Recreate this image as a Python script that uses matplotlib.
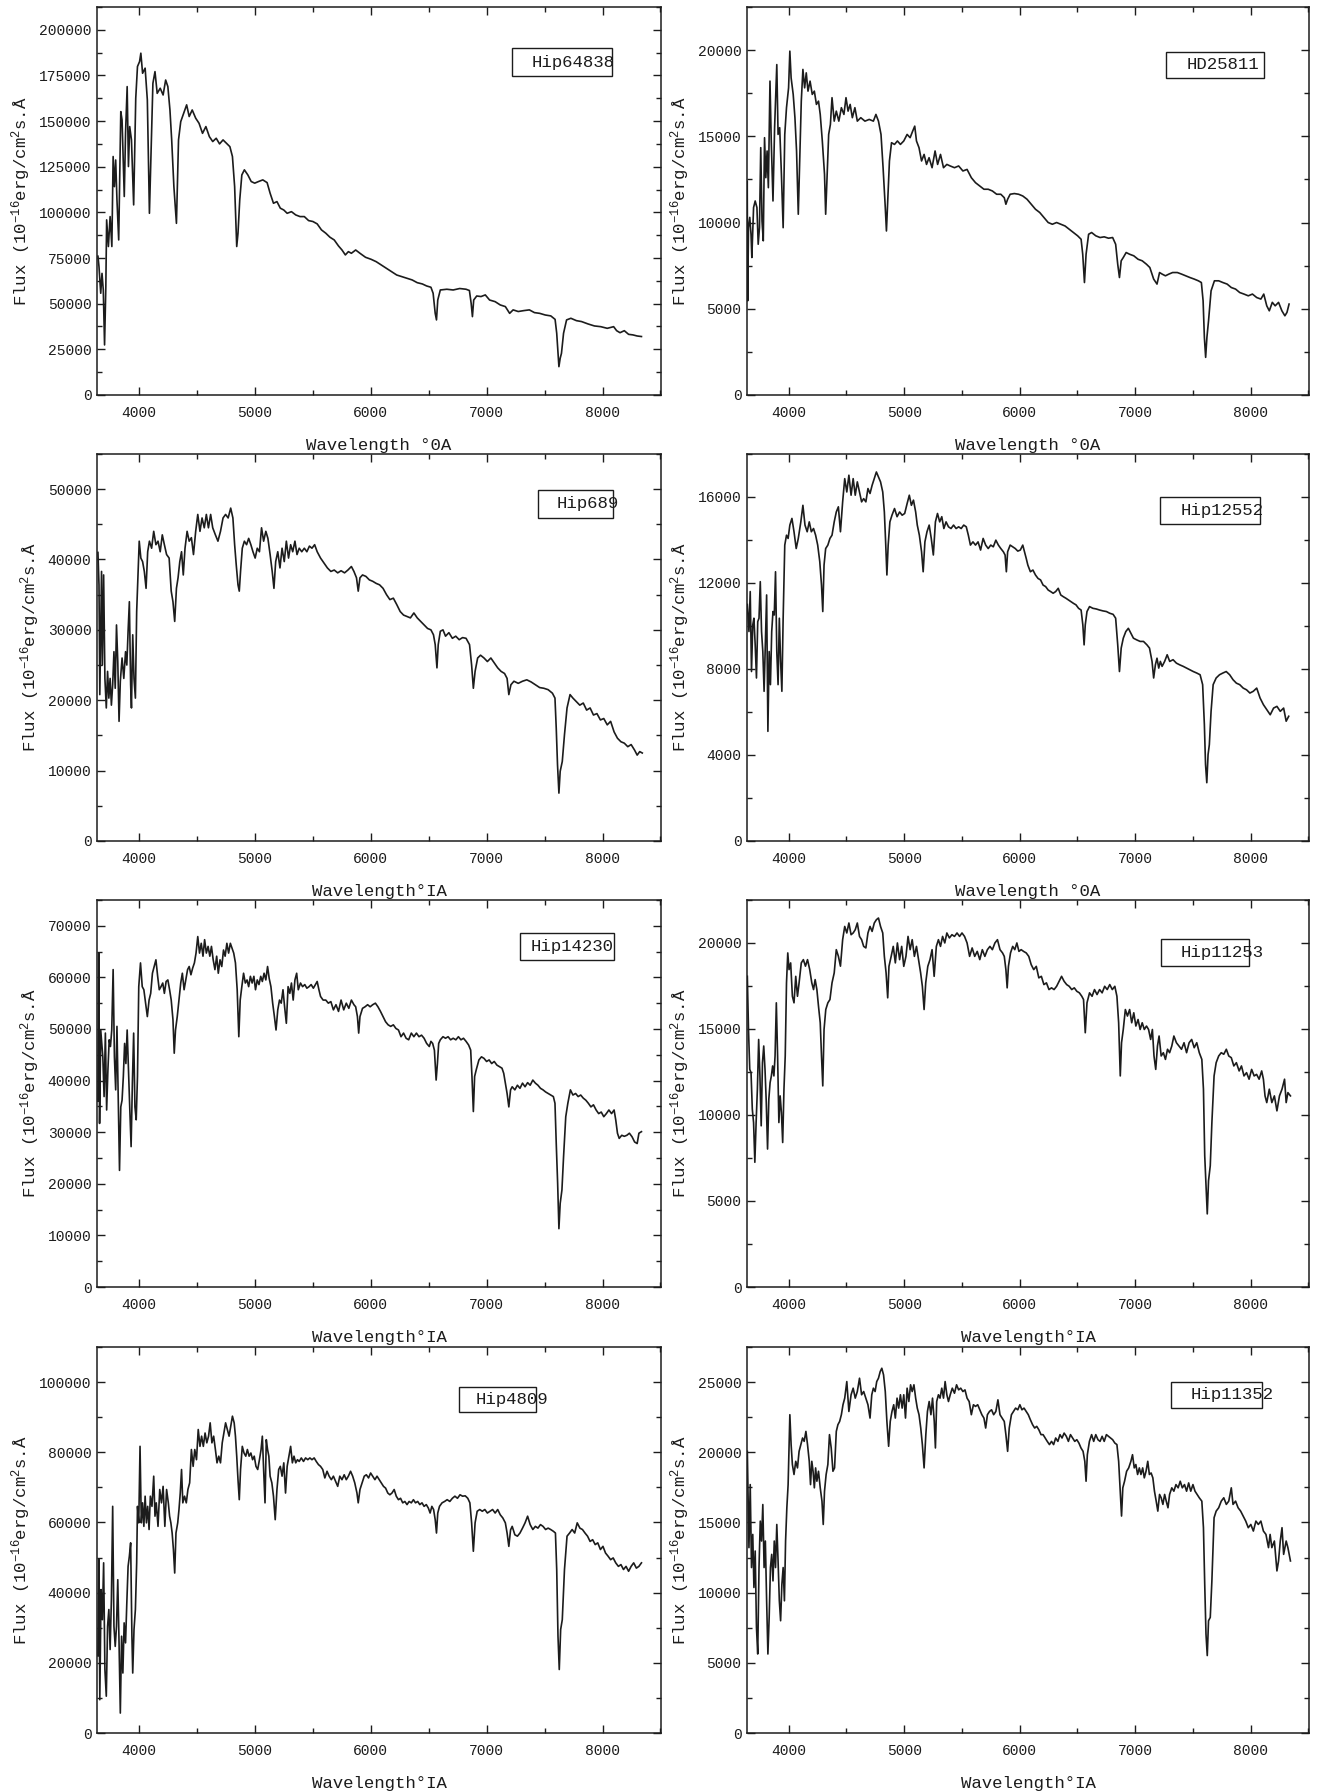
import matplotlib.pyplot as plt
from matplotlib.ticker import MultipleLocator, FuncFormatter
from matplotlib.patches import Rectangle

plt.rcParams['font.family'] = ['Liberation Mono', 'DejaVu Sans Mono']
plt.rcParams['mathtext.fontset'] = 'custom'
plt.rcParams['mathtext.rm'] = 'Liberation Mono'
plt.rcParams['mathtext.it'] = 'Liberation Mono'

# spectra: (wavelength in A, flux)
hip64838 = [
    (3648, 76000), (3657, 70300), (3672, 55700), (3683, 66600), (3694, 57500), (3705, 27400),
    (3716, 59300), (3723, 95900), (3738, 81300), (3753, 97700), (3768, 81300), (3779, 130600),
    (3790, 114100), (3801, 128700), (3812, 106800), (3827, 84900), (3845, 155200), (3856, 150600),
    (3875, 108700), (3886, 143300), (3900, 168900), (3911, 125100), (3922, 147000), (3937, 139700),
    (3956, 104100), (3974, 162500), (3989, 179900), (4007, 182600), (4018, 187200), (4033, 176200),
    (4055, 179000), (4074, 161600), (4092, 99500), (4103, 125100), (4122, 170700), (4140, 177100),
    (4159, 165200), (4185, 168000), (4210, 164300), (4232, 172500), (4251, 168900), (4269, 156100),
    (4284, 139700), (4303, 114100), (4325, 94000), (4343, 139700), (4362, 149700), (4387, 154300),
    (4413, 158900), (4435, 152500), (4461, 156100), (4491, 151600), (4520, 148800), (4550, 143300),
    (4579, 147000), (4609, 141500), (4638, 138800), (4668, 140600), (4697, 137500), (4727, 139700),
    (4756, 137900), (4786, 136000), (4808, 130600), (4827, 114100), (4845, 81300), (4856, 88600),
    (4871, 106800), (4889, 120500), (4911, 123300), (4941, 120500), (4970, 116900), (5000, 116000),
    (5033, 116900), (5070, 117800), (5107, 116300), (5133, 110500), (5162, 105000), (5192, 105900),
    (5221, 102300), (5251, 101300), (5280, 99500), (5317, 100400), (5354, 98600), (5391, 97700),
    (5428, 97700), (5465, 95500), (5502, 95000), (5539, 93700), (5576, 90400), (5613, 88600),
    (5649, 86400), (5686, 84900), (5723, 81600), (5753, 79400), (5782, 76700), (5808, 78500),
    (5834, 77600), (5871, 79400), (5908, 77600), (5956, 75400), (6004, 74300), (6048, 73000),
    (6092, 71200), (6137, 69400), (6181, 67600), (6225, 65700), (6269, 64800), (6314, 63900),
    (6358, 63000), (6402, 61500), (6446, 60800), (6483, 59700), (6520, 59000), (6539, 55700),
    (6557, 44700), (6568, 41100), (6579, 52000), (6601, 57500), (6657, 57900), (6712, 57500),
    (6768, 58300), (6823, 57900), (6852, 57200), (6867, 50200), (6878, 42900), (6889, 52000),
    (6915, 54200), (6952, 53900), (6989, 54800), (7026, 52000), (7074, 51100), (7118, 49300),
    (7162, 48400), (7199, 44700), (7229, 46600), (7273, 45700), (7321, 46200), (7369, 46600),
    (7413, 45100), (7458, 44700), (7506, 43800), (7554, 43300), (7591, 41400), (7605, 33800),
    (7616, 22800), (7624, 15500), (7635, 20100), (7646, 22800), (7664, 33800), (7690, 41100),
    (7727, 42000), (7775, 40700), (7819, 40200), (7875, 38900), (7930, 37800), (7985, 37400),
    (8041, 36500), (8096, 37400), (8122, 35200), (8151, 34100), (8188, 35200), (8225, 33200),
    (8262, 32900), (8299, 32300), (8336, 32000),
]

hd25811 = [
    (3640, 9300), (3642, 12400), (3646, 5460), (3653, 9700), (3664, 10300), (3675, 9300),
    (3682, 7970), (3697, 10870), (3711, 11250), (3726, 10870), (3737, 8740), (3748, 9700),
    (3759, 14340), (3770, 10090), (3781, 8940), (3792, 14920), (3803, 12600), (3814, 14150),
    (3825, 12020), (3839, 18200), (3850, 14730), (3865, 11250), (3879, 15500), (3898, 19160),
    (3909, 15110), (3923, 15500), (3938, 12800), (3953, 9700), (3967, 15110), (3982, 16660),
    (4000, 17810), (4011, 19940), (4022, 18390), (4040, 17430), (4055, 16080), (4069, 14150),
    (4084, 10480), (4095, 13180), (4110, 17040), (4124, 18880), (4139, 17810), (4153, 18680),
    (4168, 17620), (4186, 18200), (4205, 17430), (4223, 17620), (4241, 16850), (4259, 17040),
    (4274, 16270), (4292, 14730), (4311, 12800), (4321, 10480), (4332, 12410), (4347, 15110),
    (4362, 15690), (4376, 17240), (4395, 15880), (4413, 16460), (4435, 15880), (4457, 16660),
    (4479, 16270), (4497, 17240), (4515, 16460), (4533, 16850), (4552, 16080), (4574, 16660),
    (4595, 15880), (4625, 16080), (4661, 15880), (4698, 15980), (4734, 15880), (4756, 16270),
    (4778, 15880), (4800, 15110), (4818, 13180), (4837, 10870), (4847, 9510), (4858, 11250),
    (4873, 13570), (4891, 14630), (4917, 14530), (4942, 14730), (4968, 14530), (4997, 14730),
    (5026, 15110), (5052, 14920), (5074, 15300), (5092, 15590), (5107, 14730), (5129, 14340),
    (5151, 13570), (5173, 13950), (5194, 13370), (5216, 13760), (5242, 13180), (5268, 14150),
    (5290, 13370), (5315, 13950), (5341, 13180), (5370, 13370), (5399, 13280), (5436, 13180),
    (5472, 13280), (5509, 12990), (5545, 13080), (5582, 12600), (5618, 12310), (5655, 12120),
    (5691, 11930), (5728, 11930), (5764, 11830), (5801, 11640), (5837, 11640), (5867, 11440),
    (5881, 11060), (5896, 11350), (5918, 11640), (5954, 11680), (5991, 11640), (6027, 11540),
    (6064, 11350), (6100, 11060), (6137, 10770), (6174, 10580), (6210, 10290), (6247, 10000),
    (6283, 9900), (6320, 10000), (6356, 9900), (6393, 9800), (6429, 9610), (6466, 9420),
    (6502, 9230), (6532, 9030), (6546, 8160), (6561, 6520), (6575, 8160), (6597, 9320),
    (6623, 9420), (6659, 9230), (6696, 9130), (6732, 9170), (6769, 9090), (6805, 9130),
    (6831, 8740), (6849, 7580), (6864, 6810), (6879, 7780), (6897, 7970), (6922, 8260),
    (6952, 8160), (6988, 8070), (7025, 7870), (7061, 7780), (7098, 7580), (7127, 7390),
    (7160, 6720), (7189, 6430), (7211, 7100), (7233, 7010), (7262, 6910), (7292, 7010),
    (7324, 7100), (7365, 7100), (7401, 7010), (7438, 6910), (7474, 6810), (7511, 6720),
    (7547, 6620), (7573, 6520), (7588, 5460), (7599, 3340), (7610, 2180), (7621, 3340),
    (7635, 4300), (7657, 6040), (7686, 6620), (7723, 6620), (7759, 6520), (7796, 6430),
    (7832, 6230), (7869, 6140), (7905, 5940), (7942, 5850), (7979, 5750), (8015, 5850),
    (8052, 5650), (8088, 5560), (8113, 5850), (8139, 5170), (8161, 4880), (8187, 5370),
    (8212, 5170), (8241, 5370), (8270, 4880), (8296, 4590), (8314, 4790), (8332, 5270),
]

hip689 = [
    (3648, 41000), (3657, 36400), (3664, 20800), (3672, 30200), (3679, 38300), (3686, 25000),
    (3697, 37800), (3708, 23100), (3720, 18900), (3731, 24100), (3742, 20300), (3753, 23100),
    (3764, 19300), (3775, 22200), (3786, 26900), (3797, 21700), (3808, 30700), (3819, 25500),
    (3830, 17000), (3841, 22700), (3856, 26000), (3871, 23100), (3886, 26900), (3897, 25000),
    (3908, 29800), (3919, 34000), (3930, 22200), (3937, 18900), (3948, 29300), (3959, 23100),
    (3971, 20300), (3982, 32600), (3993, 37400), (4004, 42600), (4018, 40200), (4033, 39700),
    (4048, 38300), (4063, 35900), (4077, 41100), (4092, 42600), (4111, 41600), (4129, 44000),
    (4148, 42100), (4166, 42600), (4185, 41100), (4203, 43500), (4221, 42100), (4240, 40700),
    (4262, 40200), (4280, 35500), (4295, 34000), (4310, 31200), (4325, 35900), (4339, 37400),
    (4354, 39700), (4369, 41100), (4384, 37800), (4399, 41600), (4417, 44000), (4435, 42600),
    (4454, 43100), (4472, 40700), (4491, 44000), (4509, 46400), (4528, 44000), (4546, 45900),
    (4565, 44500), (4583, 46400), (4601, 44500), (4620, 46400), (4638, 44500), (4661, 43500),
    (4683, 42600), (4705, 44000), (4727, 45900), (4749, 46400), (4771, 45900), (4793, 47300),
    (4812, 45900), (4827, 42100), (4841, 39200), (4856, 36400), (4867, 35500), (4878, 38300),
    (4893, 41600), (4911, 42600), (4930, 42100), (4948, 43000), (4967, 42100), (4985, 41100),
    (5004, 40200), (5022, 41600), (5041, 41100), (5059, 44500), (5077, 42600), (5096, 44000),
    (5114, 43000), (5133, 40700), (5151, 38300), (5166, 35900), (5181, 39700), (5199, 41100),
    (5218, 38800), (5236, 41600), (5255, 39700), (5273, 42600), (5292, 40200), (5310, 42100),
    (5328, 41100), (5347, 42600), (5365, 40700), (5384, 41600), (5406, 41100), (5428, 41600),
    (5450, 41100), (5472, 41900), (5494, 41600), (5517, 42100), (5539, 41100), (5568, 40200),
    (5598, 39500), (5627, 38800), (5657, 38300), (5686, 38500), (5716, 38100), (5745, 38400),
    (5775, 38100), (5804, 38500), (5834, 39000), (5856, 38300), (5878, 37400), (5893, 35500),
    (5908, 37400), (5930, 37800), (5959, 37600), (5989, 37100), (6018, 36900), (6048, 36600),
    (6077, 36400), (6107, 35900), (6137, 35000), (6166, 34300), (6196, 34500), (6225, 33600),
    (6255, 32600), (6284, 32100), (6314, 31900), (6343, 31700), (6373, 32400), (6402, 31700),
    (6432, 31200), (6461, 30700), (6491, 30200), (6520, 30000), (6542, 29300), (6557, 27900),
    (6572, 24600), (6583, 27900), (6601, 29800), (6624, 30000), (6646, 29100), (6675, 29600),
    (6705, 28800), (6734, 29100), (6764, 28600), (6793, 28900), (6823, 28800), (6853, 27900),
    (6871, 25000), (6886, 21700), (6901, 24100), (6923, 26000), (6948, 26400), (6978, 26000),
    (7007, 25500), (7037, 26000), (7067, 25300), (7096, 24600), (7125, 24100), (7155, 23800),
    (7177, 23100), (7192, 20800), (7210, 22200), (7236, 22700), (7273, 22400), (7310, 22700),
    (7347, 22900), (7384, 22600), (7421, 22200), (7458, 21800), (7494, 21700), (7531, 21500),
    (7568, 21000), (7590, 20300), (7601, 16000), (7612, 10800), (7624, 6800), (7635, 9900),
    (7653, 11300), (7672, 15100), (7694, 18900), (7720, 20800), (7745, 20300), (7775, 19800),
    (7804, 19300), (7834, 19600), (7863, 18600), (7893, 18900), (7922, 17900), (7952, 18100),
    (7982, 17200), (8011, 17400), (8041, 16500), (8070, 17000), (8100, 15500), (8129, 14600),
    (8159, 14100), (8188, 13900), (8218, 13400), (8247, 13700), (8277, 12900), (8299, 12200),
    (8321, 12700), (8343, 12500),
]

hip12552 = [
    (3643, 11000), (3657, 9740), (3668, 11600), (3679, 7880), (3690, 10050), (3700, 10360),
    (3711, 9120), (3722, 7580), (3733, 10200), (3744, 10360), (3755, 12060), (3766, 9740),
    (3777, 8810), (3788, 6960), (3799, 9120), (3810, 11440), (3821, 5100), (3832, 8810),
    (3843, 7270), (3854, 9740), (3865, 10670), (3876, 10510), (3887, 12520), (3898, 8810),
    (3909, 7270), (3920, 10360), (3931, 8350), (3942, 6960), (3953, 10360), (3967, 13760),
    (3982, 14220), (3996, 14070), (4011, 14690), (4029, 15000), (4047, 14380), (4066, 13600),
    (4084, 14070), (4106, 14840), (4124, 15610), (4142, 14690), (4161, 14380), (4179, 14840),
    (4197, 14380), (4216, 14530), (4234, 14220), (4252, 13760), (4270, 12990), (4285, 11900),
    (4296, 10670), (4307, 12830), (4321, 13600), (4340, 13760), (4358, 14070), (4376, 14220),
    (4395, 14840), (4413, 15300), (4431, 15540), (4449, 14380), (4468, 15770), (4486, 16850),
    (4504, 16230), (4522, 17010), (4541, 16080), (4559, 16850), (4577, 16080), (4595, 16700),
    (4614, 16230), (4632, 15770), (4650, 15920), (4669, 15770), (4687, 16390), (4705, 16160),
    (4723, 16540), (4742, 16850), (4760, 17160), (4778, 16930), (4796, 16700), (4815, 16230),
    (4829, 15300), (4840, 13910), (4851, 12370), (4862, 13760), (4877, 14840), (4895, 15150),
    (4917, 15460), (4939, 15080), (4961, 15300), (4983, 15150), (5005, 15230), (5026, 15690),
    (5045, 16080), (5063, 15610), (5081, 15850), (5100, 15300), (5114, 14690), (5132, 14220),
    (5151, 13450), (5165, 12520), (5180, 13910), (5198, 14380), (5217, 14690), (5235, 14070),
    (5253, 13300), (5271, 14840), (5289, 15230), (5308, 14840), (5326, 15080), (5344, 14530),
    (5363, 14840), (5384, 14610), (5406, 14530), (5428, 14690), (5450, 14530), (5472, 14610),
    (5494, 14530), (5516, 14690), (5538, 14610), (5556, 14220), (5574, 13760), (5596, 13910),
    (5618, 13760), (5640, 13910), (5662, 13530), (5684, 14070), (5706, 13760), (5728, 13600),
    (5750, 13760), (5772, 13680), (5794, 13990), (5816, 13760), (5837, 13600), (5859, 13450),
    (5874, 13300), (5885, 12520), (5896, 13450), (5918, 13760), (5940, 13680), (5962, 13600),
    (5984, 13480), (6006, 13530), (6027, 13760), (6042, 13450), (6057, 13140), (6071, 12830),
    (6093, 12520), (6115, 12600), (6137, 12370), (6159, 12210), (6181, 12140), (6203, 11900),
    (6225, 11830), (6247, 11670), (6268, 11600), (6290, 11520), (6312, 11600), (6334, 11750),
    (6356, 11440), (6378, 11360), (6400, 11290), (6422, 11210), (6444, 11130), (6466, 11050),
    (6488, 10980), (6510, 10820), (6532, 10740), (6547, 10050), (6558, 9120), (6568, 10050),
    (6583, 10670), (6605, 10900), (6634, 10820), (6663, 10790), (6692, 10740), (6721, 10700),
    (6751, 10670), (6780, 10590), (6809, 10540), (6831, 10360), (6849, 9120), (6864, 7880),
    (6879, 8970), (6897, 9430), (6919, 9740), (6941, 9890), (6963, 9660), (6985, 9430),
    (7014, 9350), (7043, 9280), (7072, 9280), (7102, 9120), (7124, 8970), (7146, 8350),
    (7160, 7580), (7175, 8190), (7189, 8500), (7204, 8040), (7218, 8350), (7233, 8120),
    (7255, 8350), (7277, 8660), (7299, 8350), (7328, 8430), (7357, 8270), (7386, 8190),
    (7416, 8120), (7445, 8040), (7474, 7960), (7503, 7880), (7533, 7810), (7562, 7730),
    (7584, 7270), (7599, 5410), (7609, 3560), (7620, 2710), (7631, 4020), (7642, 4480),
    (7657, 6030), (7675, 7270), (7701, 7580), (7730, 7730), (7759, 7810), (7788, 7880),
    (7818, 7730), (7847, 7500), (7876, 7340), (7905, 7270), (7935, 7110), (7964, 7030),
    (7993, 6880), (8022, 6960), (8052, 7110), (8081, 6650), (8110, 6340), (8139, 6110),
    (8169, 5870), (8198, 6180), (8227, 6260), (8256, 6030), (8285, 6180), (8307, 5570),
    (8329, 5800),
]

hip14230 = [
    (3648, 36000), (3655, 64700), (3662, 31700), (3672, 49800), (3690, 44600), (3701, 36900),
    (3712, 49200), (3723, 34300), (3734, 42100), (3745, 47900), (3756, 46600), (3767, 49800),
    (3779, 61500), (3790, 44600), (3801, 38200), (3812, 50500), (3823, 36900), (3834, 22600),
    (3845, 34900), (3856, 36200), (3867, 40800), (3878, 47200), (3889, 43300), (3900, 49800),
    (3911, 42100), (3922, 34900), (3934, 27200), (3945, 39500), (3956, 49200), (3967, 34900),
    (3978, 32400), (3989, 40800), (4000, 58200), (4015, 62800), (4030, 58200), (4044, 57600),
    (4059, 55000), (4074, 52400), (4089, 55600), (4103, 56900), (4118, 60800), (4133, 62100),
    (4148, 63400), (4163, 60200), (4177, 57600), (4192, 58200), (4207, 58900), (4221, 56900),
    (4236, 59200), (4251, 59500), (4266, 57600), (4280, 55600), (4295, 51800), (4306, 45300),
    (4317, 49800), (4332, 52400), (4347, 55600), (4362, 58900), (4376, 60800), (4391, 57600),
    (4406, 59500), (4421, 61500), (4435, 62100), (4450, 60500), (4465, 61800), (4480, 62800),
    (4494, 64700), (4509, 67900), (4524, 64700), (4539, 66600), (4554, 64100), (4568, 67300),
    (4583, 64700), (4598, 66000), (4613, 64100), (4627, 66000), (4642, 63400), (4657, 61500),
    (4672, 64100), (4686, 60800), (4701, 63400), (4716, 62100), (4731, 65300), (4745, 64100),
    (4760, 66600), (4775, 64700), (4790, 66600), (4804, 65700), (4819, 64700), (4834, 62800),
    (4849, 57600), (4863, 48500), (4875, 55600), (4889, 58200), (4904, 60800), (4919, 58900),
    (4934, 59500), (4948, 58200), (4963, 60200), (4978, 58900), (4993, 60200), (5007, 57600),
    (5022, 59500), (5037, 58600), (5052, 60200), (5066, 59200), (5081, 60800), (5096, 59500),
    (5111, 62100), (5125, 59800), (5140, 58200), (5155, 55000), (5170, 52400), (5184, 49800),
    (5199, 53700), (5214, 55600), (5229, 55000), (5244, 57600), (5258, 54300), (5273, 51100),
    (5288, 58200), (5303, 56900), (5317, 58900), (5332, 55600), (5347, 59500), (5362, 60800),
    (5376, 57600), (5395, 58900), (5413, 58200), (5432, 58600), (5450, 57900), (5469, 58200),
    (5487, 58600), (5506, 57900), (5524, 58600), (5539, 59200), (5554, 57600), (5568, 56300),
    (5590, 55600), (5613, 55600), (5635, 55000), (5657, 55300), (5679, 53700), (5701, 54700),
    (5723, 53400), (5745, 55600), (5768, 53700), (5790, 55000), (5812, 54000), (5834, 55600),
    (5856, 54700), (5871, 54300), (5886, 52400), (5897, 49200), (5908, 52400), (5930, 54000),
    (5952, 54300), (5974, 54700), (5996, 54300), (6018, 54700), (6041, 55000), (6063, 54300),
    (6085, 53400), (6107, 52400), (6129, 51400), (6151, 50800), (6173, 50500), (6196, 50800),
    (6218, 50100), (6240, 49800), (6262, 48500), (6284, 49200), (6306, 48200), (6328, 47900),
    (6351, 49200), (6373, 48500), (6395, 49200), (6417, 48500), (6439, 48800), (6461, 48200),
    (6483, 47200), (6506, 46600), (6520, 47600), (6535, 47200), (6550, 45900), (6565, 40100),
    (6576, 43300), (6587, 47200), (6601, 47900), (6624, 48500), (6646, 48200), (6668, 48500),
    (6690, 47900), (6712, 48200), (6735, 47900), (6757, 48500), (6779, 47900), (6801, 48200),
    (6823, 47600), (6845, 46900), (6863, 45900), (6874, 40800), (6886, 34000), (6897, 40800),
    (6911, 42100), (6934, 44000), (6956, 44600), (6978, 44300), (7000, 43700), (7022, 44000),
    (7044, 43300), (7066, 43700), (7089, 43000), (7111, 42700), (7133, 42400), (7148, 41400),
    (7162, 39500), (7177, 37500), (7192, 34900), (7207, 38200), (7221, 38800), (7244, 38200),
    (7266, 39100), (7288, 38500), (7310, 39500), (7332, 38800), (7354, 39600), (7376, 39100),
    (7399, 40100), (7421, 39500), (7443, 39100), (7465, 38500), (7487, 38200), (7509, 37800),
    (7531, 37500), (7553, 37200), (7576, 36900), (7590, 35600), (7601, 27800), (7613, 20100),
    (7624, 11300), (7635, 16200), (7650, 18800), (7664, 25200), (7683, 33000), (7701, 35600),
    (7723, 38200), (7745, 37200), (7768, 37500), (7790, 36900), (7812, 37200), (7834, 36600),
    (7856, 36200), (7878, 35600), (7900, 34900), (7922, 35300), (7945, 34300), (7967, 33600),
    (7989, 33900), (8011, 33000), (8033, 33600), (8055, 34300), (8078, 33600), (8100, 34300),
    (8114, 32400), (8129, 29800), (8144, 28800), (8166, 29400), (8188, 29200), (8210, 29400),
    (8232, 29800), (8255, 29100), (8277, 28100), (8299, 27800), (8314, 29800), (8336, 30100),
]

hip11253 = [
    (3643, 18060), (3653, 14970), (3664, 12650), (3675, 12460), (3686, 10340), (3697, 9560),
    (3708, 7250), (3719, 9560), (3730, 11500), (3741, 14390), (3752, 12270), (3763, 9370),
    (3774, 13040), (3785, 14010), (3796, 12650), (3807, 10720), (3818, 8020), (3829, 10920),
    (3840, 11880), (3851, 12270), (3862, 12850), (3873, 12270), (3883, 13430), (3894, 16520),
    (3905, 13430), (3916, 9560), (3927, 11110), (3938, 10140), (3949, 8400), (3960, 11500),
    (3971, 13430), (3982, 17680), (3993, 19420), (4004, 18450), (4018, 18840), (4033, 16900),
    (4047, 16520), (4062, 18060), (4077, 16900), (4091, 17680), (4110, 18840), (4128, 19030),
    (4146, 18650), (4164, 19030), (4183, 18450), (4201, 17680), (4216, 17290), (4230, 17870),
    (4245, 17290), (4259, 16320), (4274, 15360), (4285, 13430), (4296, 11690), (4307, 14970),
    (4322, 16130), (4340, 16520), (4358, 16710), (4376, 17680), (4395, 18260), (4413, 19610),
    (4431, 19230), (4449, 18650), (4468, 20190), (4486, 20960), (4504, 20580), (4522, 21160),
    (4541, 20480), (4559, 20580), (4577, 20770), (4595, 21160), (4614, 20380), (4632, 20190),
    (4650, 19800), (4669, 19710), (4687, 20580), (4705, 20960), (4723, 20670), (4742, 21160),
    (4760, 21350), (4778, 21450), (4796, 20960), (4815, 20580), (4829, 19220), (4844, 18260),
    (4858, 16810), (4869, 18640), (4888, 19220), (4906, 19800), (4924, 18840), (4942, 20000),
    (4961, 19030), (4979, 19800), (4997, 18640), (5016, 19220), (5034, 20380), (5052, 19610),
    (5070, 20190), (5089, 19220), (5107, 19800), (5125, 19030), (5143, 18260), (5158, 17480),
    (5173, 16130), (5187, 17680), (5205, 18640), (5224, 19030), (5242, 19610), (5260, 18060),
    (5279, 19800), (5297, 20190), (5315, 19800), (5333, 20380), (5352, 20000), (5370, 20580),
    (5392, 20290), (5414, 20480), (5436, 20380), (5458, 20580), (5480, 20380), (5501, 20580),
    (5523, 20380), (5545, 20000), (5567, 19220), (5589, 19710), (5611, 19220), (5633, 19510),
    (5655, 19030), (5677, 19610), (5699, 19220), (5721, 19610), (5743, 19800), (5764, 19610),
    (5786, 20000), (5808, 20190), (5830, 19610), (5852, 19420), (5867, 19220), (5881, 18450),
    (5892, 17390), (5903, 18640), (5921, 19420), (5940, 19800), (5958, 19610), (5976, 20000),
    (5994, 19510), (6013, 19610), (6034, 19510), (6057, 19420), (6079, 19220), (6100, 18740),
    (6122, 18450), (6144, 18640), (6166, 17970), (6188, 18060), (6210, 17580), (6232, 17680),
    (6254, 17290), (6276, 17390), (6298, 17290), (6320, 17480), (6342, 17770), (6363, 18060),
    (6385, 17770), (6407, 17580), (6429, 17480), (6451, 17290), (6473, 17390), (6495, 17190),
    (6517, 17100), (6538, 16900), (6553, 16710), (6568, 14780), (6583, 16520), (6605, 17100),
    (6627, 16900), (6648, 17290), (6670, 17000), (6692, 17290), (6714, 17100), (6736, 17480),
    (6758, 17290), (6780, 17580), (6802, 17290), (6824, 17480), (6842, 16900), (6857, 15360),
    (6871, 12270), (6882, 14200), (6897, 14970), (6915, 16130), (6933, 15750), (6952, 16130),
    (6970, 15360), (6988, 15940), (7006, 15170), (7025, 15550), (7043, 14970), (7061, 15360),
    (7079, 14970), (7098, 15170), (7116, 14970), (7134, 14390), (7149, 14970), (7163, 13430),
    (7178, 12650), (7193, 14010), (7207, 14590), (7225, 13430), (7244, 13620), (7262, 13230),
    (7280, 13820), (7298, 13620), (7317, 14010), (7335, 14590), (7357, 14200), (7379, 14010),
    (7401, 13820), (7423, 14200), (7445, 13620), (7467, 14200), (7489, 14390), (7511, 13910),
    (7533, 14200), (7555, 13620), (7577, 13230), (7591, 11500), (7602, 7640), (7613, 5900),
    (7624, 4250), (7635, 6180), (7650, 7050), (7664, 9560), (7683, 12270), (7701, 13040),
    (7723, 13430), (7745, 13620), (7767, 13530), (7789, 13820), (7810, 13430), (7832, 13330),
    (7854, 12850), (7876, 13040), (7900, 12560), (7920, 12850), (7942, 12270), (7964, 12460),
    (7986, 12080), (8008, 12650), (8030, 12270), (8051, 12360), (8073, 12080), (8095, 12560),
    (8110, 12080), (8124, 11110), (8139, 10720), (8161, 11500), (8183, 10720), (8205, 11110),
    (8227, 10240), (8249, 11110), (8271, 11500), (8293, 12080), (8307, 10720), (8322, 11300),
    (8344, 11110),
]

hip4809 = [
    (3648, 22000), (3657, 49400), (3664, 9500), (3675, 40900), (3686, 32300), (3697, 48500),
    (3708, 18100), (3720, 10500), (3731, 30400), (3742, 35200), (3753, 23800), (3764, 38000),
    (3775, 64600), (3786, 30400), (3797, 24700), (3808, 30400), (3819, 43700), (3830, 25700),
    (3841, 5700), (3852, 27600), (3863, 17100), (3874, 31400), (3886, 25700), (3897, 37100),
    (3908, 47500), (3919, 50400), (3930, 54200), (3941, 27600), (3948, 17100), (3959, 29500),
    (3971, 35200), (3982, 48500), (3989, 64600), (4000, 59900), (4011, 81700), (4022, 59900),
    (4033, 65600), (4044, 58900), (4055, 67500), (4066, 59900), (4077, 64600), (4089, 58000),
    (4100, 67500), (4114, 64600), (4129, 73200), (4140, 61800), (4151, 65600), (4166, 58900),
    (4181, 69400), (4196, 65600), (4210, 70300), (4225, 58900), (4240, 69400), (4255, 65600),
    (4266, 61800), (4277, 59900), (4288, 57000), (4299, 52300), (4310, 45600), (4321, 57000),
    (4336, 59900), (4347, 63700), (4358, 68400), (4369, 75100), (4380, 65600), (4395, 67500),
    (4410, 65600), (4424, 69400), (4439, 71300), (4454, 80800), (4469, 76000), (4483, 80800),
    (4498, 77900), (4513, 86500), (4528, 81700), (4542, 84600), (4557, 81700), (4572, 85500),
    (4587, 82700), (4602, 84600), (4616, 88400), (4631, 82700), (4646, 84600), (4661, 80800),
    (4675, 77000), (4690, 78900), (4705, 77000), (4720, 82700), (4734, 85500), (4749, 88400),
    (4764, 86500), (4779, 84600), (4793, 87400), (4808, 90300), (4823, 88400), (4834, 84600),
    (4845, 78900), (4856, 72200), (4867, 66500), (4878, 75100), (4893, 81700), (4908, 79800),
    (4923, 78900), (4937, 80800), (4952, 78900), (4967, 79800), (4982, 77900), (4996, 78900),
    (5011, 76000), (5026, 75100), (5041, 77900), (5055, 80800), (5066, 84600), (5077, 75100),
    (5089, 65600), (5100, 83600), (5111, 80800), (5122, 78900), (5133, 73200), (5148, 71300),
    (5162, 67500), (5177, 60800), (5192, 69400), (5207, 75100), (5221, 76000), (5236, 73200),
    (5251, 77000), (5266, 68400), (5280, 76000), (5295, 78900), (5310, 81700), (5325, 77000),
    (5339, 78900), (5354, 77000), (5369, 77900), (5384, 77400), (5402, 78400), (5421, 77400),
    (5439, 78400), (5458, 77900), (5476, 78400), (5494, 77900), (5513, 78400), (5531, 77400),
    (5550, 76500), (5568, 76000), (5587, 75100), (5605, 72700), (5624, 74600), (5642, 73200),
    (5661, 72200), (5679, 73200), (5697, 71800), (5716, 70300), (5734, 73200), (5753, 72200),
    (5772, 73600), (5790, 72200), (5808, 73200), (5827, 74600), (5845, 73200), (5863, 71300),
    (5882, 68400), (5893, 65600), (5908, 69400), (5926, 71300), (5945, 73200), (5963, 73600),
    (5982, 72700), (6000, 74100), (6018, 73200), (6037, 72200), (6055, 73200), (6074, 72200),
    (6092, 71300), (6111, 70300), (6129, 69800), (6148, 68400), (6166, 67900), (6184, 68400),
    (6203, 69400), (6221, 67500), (6240, 66500), (6258, 66900), (6277, 65600), (6295, 66000),
    (6314, 65100), (6332, 66000), (6351, 65600), (6369, 66500), (6387, 65600), (6406, 66000),
    (6424, 65100), (6443, 65600), (6461, 64600), (6480, 65100), (6498, 64100), (6513, 62700),
    (6528, 64600), (6543, 63700), (6557, 60800), (6568, 57000), (6579, 62700), (6594, 64600),
    (6616, 65600), (6638, 66000), (6660, 66500), (6683, 66000), (6705, 66900), (6727, 67500),
    (6749, 66900), (6771, 67900), (6793, 67500), (6816, 67600), (6838, 66900), (6856, 65600),
    (6871, 59900), (6886, 51800), (6901, 59900), (6919, 63200), (6941, 63700), (6963, 63200),
    (6985, 63700), (7007, 62700), (7030, 63200), (7052, 63700), (7074, 62700), (7096, 63700),
    (7118, 62200), (7140, 61300), (7162, 59900), (7177, 57000), (7192, 53200), (7207, 57900),
    (7221, 58900), (7244, 56500), (7266, 56100), (7288, 57000), (7310, 58400), (7332, 59900),
    (7354, 61800), (7376, 59400), (7399, 58000), (7421, 58900), (7443, 58400), (7465, 59400),
    (7487, 58900), (7509, 58000), (7531, 58400), (7553, 58000), (7576, 57500), (7594, 57000),
    (7605, 46600), (7616, 27600), (7627, 18100), (7639, 29500), (7653, 32300), (7672, 46600),
    (7694, 56100), (7716, 57000), (7738, 58000), (7760, 57000), (7782, 59900), (7805, 58400),
    (7827, 58000), (7849, 57000), (7871, 56100), (7893, 54600), (7915, 55100), (7937, 53700),
    (7959, 54200), (7982, 52300), (8004, 53200), (8026, 51300), (8048, 50400), (8070, 49400),
    (8092, 49900), (8114, 48500), (8137, 47500), (8159, 48000), (8181, 46600), (8203, 47500),
    (8225, 46100), (8247, 47500), (8269, 48500), (8292, 47000), (8314, 47500), (8336, 48500),
]

hip11352 = [
    (3643, 20070), (3657, 13210), (3668, 17700), (3679, 11790), (3690, 14150), (3700, 10370),
    (3711, 12970), (3722, 7530), (3733, 5630), (3744, 11790), (3755, 15100), (3766, 13680),
    (3777, 16280), (3788, 11790), (3799, 13680), (3810, 9420), (3821, 5630), (3832, 8240),
    (3843, 11790), (3854, 12730), (3865, 10840), (3876, 13680), (3887, 11790), (3898, 14860),
    (3909, 12260), (3920, 9420), (3931, 8000), (3942, 10600), (3953, 11790), (3964, 9420),
    (3974, 13680), (3985, 16050), (3996, 17700), (4011, 22680), (4022, 20550), (4033, 19130),
    (4047, 18420), (4062, 19360), (4077, 18890), (4091, 20070), (4106, 20550), (4121, 21020),
    (4135, 20780), (4150, 21490), (4164, 20550), (4179, 19360), (4190, 17700), (4201, 19360),
    (4212, 18650), (4223, 17470), (4234, 18890), (4245, 17940), (4259, 18650), (4274, 17470),
    (4289, 16520), (4300, 14860), (4311, 17230), (4325, 18420), (4340, 19130), (4354, 21260),
    (4369, 20310), (4384, 18650), (4398, 18890), (4413, 21490), (4427, 21970), (4442, 22200),
    (4457, 22680), (4471, 23390), (4486, 23860), (4504, 25040), (4522, 22910), (4541, 24100),
    (4559, 24570), (4577, 23860), (4595, 24330), (4614, 25280), (4632, 24100), (4650, 24330),
    (4669, 23860), (4687, 23390), (4705, 22440), (4720, 24100), (4734, 24570), (4749, 24330),
    (4763, 25040), (4778, 25280), (4793, 25750), (4807, 25990), (4822, 25520), (4837, 24330),
    (4851, 22200), (4866, 20430), (4880, 22200), (4895, 22910), (4910, 23390), (4924, 22440),
    (4939, 23860), (4953, 23150), (4968, 24100), (4983, 23150), (4997, 24100), (5012, 22440),
    (5026, 24570), (5041, 23620), (5056, 24810), (5070, 24330), (5085, 24810), (5100, 23860),
    (5114, 23150), (5129, 22680), (5144, 21730), (5158, 20550), (5173, 18890), (5188, 21260),
    (5202, 22910), (5217, 23620), (5232, 22680), (5246, 23860), (5261, 22200), (5271, 20310),
    (5282, 23620), (5297, 24100), (5311, 23860), (5326, 24570), (5341, 23860), (5355, 25040),
    (5370, 24100), (5384, 23620), (5399, 24100), (5417, 24570), (5436, 24210), (5454, 24810),
    (5472, 24450), (5490, 24570), (5509, 24330), (5527, 24450), (5545, 23860), (5563, 23620),
    (5582, 22680), (5600, 23390), (5618, 23270), (5637, 23390), (5655, 23030), (5673, 22680),
    (5691, 22440), (5706, 21730), (5721, 22680), (5739, 22910), (5757, 23030), (5775, 22680),
    (5794, 22910), (5812, 23740), (5830, 22680), (5848, 22440), (5867, 22200), (5881, 21260),
    (5896, 20070), (5910, 21730), (5929, 22680), (5947, 22910), (5965, 23150), (5984, 23030),
    (6002, 23390), (6020, 23030), (6038, 23150), (6057, 22910), (6075, 22680), (6093, 22320),
    (6112, 21970), (6130, 21730), (6148, 21850), (6166, 21610), (6185, 21260), (6203, 21260),
    (6221, 21020), (6239, 20780), (6258, 20550), (6276, 20780), (6294, 20550), (6312, 21020),
    (6331, 20780), (6349, 21260), (6367, 21020), (6385, 21370), (6404, 21140), (6422, 20780),
    (6440, 21260), (6458, 21020), (6477, 20780), (6495, 20900), (6513, 20660), (6531, 20310),
    (6549, 20070), (6564, 19360), (6575, 17940), (6586, 19830), (6604, 20780), (6623, 21260),
    (6641, 20780), (6659, 21260), (6678, 20900), (6696, 20780), (6714, 21140), (6732, 20780),
    (6751, 21260), (6769, 21140), (6787, 21020), (6805, 20900), (6824, 20660), (6842, 20550),
    (6857, 19360), (6871, 17230), (6882, 15460), (6893, 17470), (6908, 17940), (6926, 18650),
    (6944, 18890), (6963, 19360), (6977, 19830), (6992, 18890), (7006, 19130), (7021, 18420),
    (7036, 18890), (7050, 18420), (7065, 18890), (7079, 18180), (7094, 18650), (7109, 19360),
    (7123, 18420), (7138, 18530), (7153, 18180), (7167, 17230), (7182, 16520), (7196, 15810),
    (7211, 17000), (7225, 16760), (7240, 16290), (7255, 17000), (7269, 16520), (7284, 16050),
    (7298, 17000), (7317, 17470), (7335, 17230), (7353, 17700), (7372, 17470), (7390, 17940),
    (7408, 17470), (7427, 17700), (7445, 17230), (7463, 17820), (7481, 17230), (7500, 17700),
    (7518, 17230), (7536, 17000), (7555, 16760), (7577, 16520), (7591, 14630), (7602, 10600),
    (7613, 7050), (7624, 5520), (7635, 8000), (7650, 8240), (7664, 10840), (7683, 15340),
    (7701, 15810), (7723, 16050), (7745, 16520), (7767, 16760), (7789, 16290), (7810, 16520),
    (7832, 17470), (7847, 16290), (7869, 16520), (7891, 16050), (7913, 15810), (7935, 15460),
    (7957, 15100), (7979, 14630), (8001, 14860), (8023, 14390), (8045, 15100), (8066, 14860),
    (8088, 15100), (8110, 14390), (8132, 14150), (8154, 13210), (8168, 14150), (8183, 13210),
    (8205, 13680), (8227, 11550), (8241, 12260), (8256, 13680), (8271, 14630), (8285, 12730),
    (8307, 13680), (8322, 13210), (8344, 12260),
]

names = ['Hip64838', 'HD25811', 'Hip689', 'Hip12552', 'Hip14230', 'Hip11253', 'Hip4809', 'Hip11352']
spectra = [hip64838, hd25811, hip689, hip12552, hip14230, hip11253, hip4809, hip11352]
y_top = [212500, 22500, 55000, 18000, 75000, 22500, 110000, 27500]
y_major = [25000, 5000, 10000, 4000, 10000, 5000, 20000, 5000]
y_minor = [12500, 2500, 5000, 2000, 5000, 2500, 10000, 2500]
xlabels = ['Wavelength °0A', 'Wavelength °0A', 'Wavelength°IA', 'Wavelength °0A',
           'Wavelength°IA', 'Wavelength°IA', 'Wavelength°IA', 'Wavelength°IA']
ylabel = r'Flux (10$^{-16}$erg/cm$^2$s.Å'

# name boxes: x0, x1, y0, y1, text x (axes fraction)
boxes = [(0.736, 0.913, 0.822, 0.894, 0.770), (0.745, 0.919, 0.817, 0.884, 0.782),
         (0.782, 0.915, 0.835, 0.907, 0.814), (0.735, 0.913, 0.820, 0.889, 0.772),
         (0.750, 0.917, 0.845, 0.915, 0.768), (0.737, 0.893, 0.830, 0.900, 0.772),
         (0.642, 0.778, 0.831, 0.896, 0.672), (0.754, 0.916, 0.842, 0.910, 0.790)]

fig = plt.figure(figsize=(13.2, 17.92), dpi=100)
lefts = [0.0735, 0.5659]
widths = [0.4273, 0.4258]
bottoms = [0.7796, 0.5307, 0.2818, 0.0329]
heights = [0.2165, 0.216, 0.216, 0.2154]
ink = '#1c1c1c'

for i in range(8):
    r, c = divmod(i, 2)
    ax = fig.add_axes([lefts[c], bottoms[r], widths[c], heights[r]])
    wl = [p[0] for p in spectra[i]]
    fx = [p[1] for p in spectra[i]]
    ax.plot(wl, fx, color=ink, lw=1.2)
    ax.set_xlim(3640, 8505)
    ax.set_ylim(0, y_top[i])
    ax.xaxis.set_major_locator(MultipleLocator(1000))
    ax.xaxis.set_minor_locator(MultipleLocator(500))
    ax.yaxis.set_major_locator(MultipleLocator(y_major[i]))
    ax.yaxis.set_minor_locator(MultipleLocator(y_minor[i]))
    ax.yaxis.set_major_formatter(FuncFormatter(lambda v, p: '%d' % v))
    ax.tick_params(which='both', direction='in', top=True, right=True,
                   colors=ink, width=1.0, labelsize=10.5)
    ax.tick_params(which='major', length=6)
    ax.tick_params(which='minor', length=3.5)
    ax.tick_params(axis='x', pad=8)
    ax.tick_params(axis='y', pad=4)
    for s in ax.spines.values():
        s.set_linewidth(1.1)
        s.set_color(ink)
    ax.set_xlabel(xlabels[i], fontsize=12.5, labelpad=13, color=ink)
    ax.set_ylabel(ylabel, fontsize=12.5, labelpad=4, color=ink)
    bx0, bx1, by0, by1, tx = boxes[i]
    ax.add_patch(Rectangle((bx0, by0), bx1 - bx0, by1 - by0, transform=ax.transAxes,
                           fill=False, lw=1.0, ec=ink))
    ax.text(tx, (by0 + by1) / 2, names[i], transform=ax.transAxes, fontsize=12.5,
            va='center', ha='left', color=ink)

fig.savefig('out.png', dpi=100)
